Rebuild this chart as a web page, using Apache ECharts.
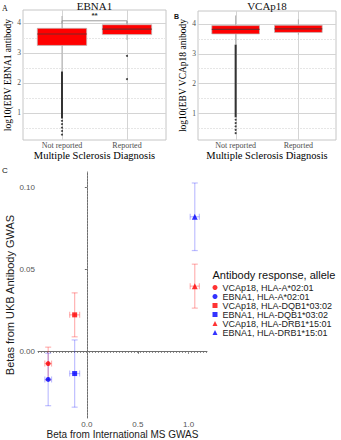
<!DOCTYPE html>
<html>
<head>
<meta charset="utf-8">
<script src="https://cdn.jsdelivr.net/npm/echarts@6/dist/echarts.min.js"></script>
<style>html,body{margin:0;padding:0;background:#fff}#c{width:341px;height:440px}</style>
</head>
<body>
<div id="c"></div>
<script>
// ---------- DATA ----------
const boxCategories = ['Not reported', 'Reported'];
// [lowerWhisker, Q1, median, Q3, upperWhisker]
const ebna1Box = [[2.38, 3.25, 3.63, 3.82, 4.23], [3.43, 3.61, 3.79, 3.94, 4.06]];
const vcaBox = [[3.30, 3.66, 3.81, 3.94, 4.28], [3.63, 3.71, 3.83, 3.95, 4.15]];
// dense outlier runs: [categoryIndex, low, high]
const ebna1DenseOutliers = [[0, 0.82, 2.38]];
const vcaDenseOutliers = [[0, 0.86, 3.30]];
// single outliers: [categoryIndex, value]
const ebna1Outliers = [[0, 0.74], [0, 0.63], [0, 0.51], [0, 0.40], [0, 0.28], [1, 2.90], [1, 2.13]];
const vcaOutliers = [[0, 0.78], [0, 0.67], [0, 0.56], [0, 0.44], [0, 0.33]];
const abYTicks = [1, 2, 3, 4];
const abYMinor = [0.5, 1.5, 2.5, 3.5];
const abXTicks = [0, 1];
const ebna1Signif = [[0, 1, 4.07, '**']];

const gwasNames = ['VCAp18, HLA-A*02:01', 'EBNA1, HLA-A*02:01', 'VCAp18, HLA-DQB1*03:02',
                   'EBNA1, HLA-DQB1*03:02', 'VCAp18, HLA-DRB1*15:01', 'EBNA1, HLA-DRB1*15:01'];
const msBeta = [-0.38, -0.38, -0.12, -0.12, 1.06, 1.06];
const msErr = [0.033, 0.033, 0.049, 0.049, 0.045, 0.045];
const ukbBeta = [-0.0072, -0.0169, 0.0225, -0.0133, 0.0400, 0.0823];
const ukbErr = [0.0100, 0.0160, 0.0134, 0.0205, 0.0134, 0.0206];
const cXTicks = [0, 0.5, 1.0];
const cYTicks = [0, 0.05, 0.10];
const cRefVertical = [0];   // x = 0 reference line
const cRefHorizontal = [0]; // y = 0 reference line

// ---------- STYLE ----------
const RED = '#ff0000', BLUE = '#0000ff';
const gwasColors = [RED, BLUE, RED, BLUE, RED, BLUE];
const gwasBarColors = ['rgba(255,0,0,0.3)', 'rgba(0,0,255,0.25)', 'rgba(255,0,0,0.3)', 'rgba(0,0,255,0.25)', 'rgba(255,0,0,0.3)', 'rgba(0,0,255,0.25)'];
const gwasSymbols = ['circle', 'circle', 'rect', 'rect', 'triangle', 'triangle'];
const gwasSizes = [5, 5, 5, 5, 6, 6];
const SERIF = '"Liberation Serif", "DejaVu Serif", serif';
const SANS = '"Liberation Sans", Arial, sans-serif';
const BOX_W = 0.76;

const chart = echarts.init(document.getElementById('c'), null, {renderer: 'svg'});

// line items: [direction(0=horizontal,1=vertical), value, kind(1 major, 0 minor, 2 reference)]
function gridItems() {
  return abYTicks.map(v => [0, v, 1]).concat(abYMinor.map(v => [0, v, 0])).concat(abXTicks.map(v => [1, v, 1]));
}
function refItems() {
  return cRefVertical.map(v => [1, v, 2]).concat(cRefHorizontal.map(v => [0, v, 2]));
}
function lineRender(params, api) {
  const cs = params.coordSys;
  const dir = api.value(0), v = api.value(1), kind = api.value(2);
  const st = kind === 1 ? {stroke: '#d4d4d4', lineWidth: 1}
           : kind === 0 ? {stroke: '#e6e6e6', lineWidth: 1, lineDash: [2, 1]}
           : {stroke: '#8f8f8f', lineWidth: 1, lineDash: [1, 2]};
  if (dir === 0) {
    const p = api.coord([0, v]);
    const y = Math.round(p[1]) + 0.5;
    return {type: 'line', shape: {x1: cs.x, y1: y, x2: cs.x + cs.width, y2: y}, style: st};
  }
  const p = api.coord([v, 0]);
  const x = Math.round(p[0]) + 0.5;
  return {type: 'line', shape: {x1: x, y1: cs.y, x2: x, y2: cs.y + cs.height}, style: st};
}
function boxRender(params, api) {
  const x = api.value(0);
  const lo = api.coord([x, api.value(1)]);
  const q1 = api.coord([x, api.value(2)]);
  const md = api.coord([x, api.value(3)]);
  const q3 = api.coord([x, api.value(4)]);
  const hi = api.coord([x, api.value(5)]);
  const hw = api.size([BOX_W, 0])[0] / 2;
  const wStyle = {stroke: '#b0b0b0', lineWidth: 1};
  return {type: 'group', children: [
    {type: 'line', shape: {x1: lo[0], y1: lo[1], x2: q1[0], y2: q1[1]}, style: wStyle},
    {type: 'line', shape: {x1: q3[0], y1: q3[1], x2: hi[0], y2: hi[1]}, style: wStyle},
    {type: 'rect', shape: {x: q1[0] - hw, y: q3[1], width: 2 * hw, height: q1[1] - q3[1]},
     style: {fill: RED, stroke: '#bdbdbd', lineWidth: 0.7}},
    {type: 'line', shape: {x1: md[0] - hw, y1: md[1], x2: md[0] + hw, y2: md[1]},
     style: {stroke: '#7d2626', lineWidth: 1.2}}
  ]};
}
function denseRender(params, api) {
  const x = api.value(0);
  const a = api.coord([x, api.value(1)]);
  const b = api.coord([x, api.value(2)]);
  return {type: 'line', shape: {x1: a[0], y1: a[1], x2: b[0], y2: b[1]},
          style: {stroke: '#333', lineWidth: 2}};
}
function signifRender(params, api) {
  const y = api.value(2);
  const a = api.coord([api.value(0), y]);
  const b = api.coord([api.value(1), y]);
  const drop = api.size([0, 0.1])[1];
  const st = {stroke: '#9a9a9a', lineWidth: 1, fill: 'none'};
  return {type: 'group', children: [
    {type: 'polyline', shape: {points: [[a[0], a[1] + drop], [a[0], a[1]], [b[0], b[1]], [b[0], b[1] + drop]]}, style: st},
    {type: 'text', x: (a[0] + b[0]) / 2, y: a[1] - 5,
     style: {text: api.value(3), fill: '#333', font: 'bold 8px ' + SANS, align: 'center', verticalAlign: 'middle'}}
  ]};
}
function errRender(params, api) {
  const i = params.dataIndex;
  const x = api.value(0), y = api.value(1), xe = api.value(2), ye = api.value(3);
  const top = api.coord([x, y + ye]), bot = api.coord([x, y - ye]);
  const lft = api.coord([x - xe, y]), rgt = api.coord([x + xe, y]);
  const cap = 3;
  const st = {stroke: gwasBarColors[i], lineWidth: 1.2};
  return {type: 'group', children: [
    {type: 'line', shape: {x1: top[0], y1: top[1], x2: bot[0], y2: bot[1]}, style: st},
    {type: 'line', shape: {x1: top[0] - cap, y1: top[1], x2: top[0] + cap, y2: top[1]}, style: st},
    {type: 'line', shape: {x1: bot[0] - cap, y1: bot[1], x2: bot[0] + cap, y2: bot[1]}, style: st},
    {type: 'line', shape: {x1: lft[0], y1: lft[1], x2: rgt[0], y2: rgt[1]}, style: st},
    {type: 'line', shape: {x1: lft[0], y1: lft[1] - cap, x2: lft[0], y2: lft[1] + cap}, style: st},
    {type: 'line', shape: {x1: rgt[0], y1: rgt[1] - cap, x2: rgt[0], y2: rgt[1] + cap}, style: st}
  ]};
}

function boxXAxis(gridIndex) {
  return {
    type: 'value', gridIndex, min: -0.6, max: 1.6,
    axisLine: {show: false},
    axisTick: {show: false, customValues: abXTicks},
    axisLabel: {customValues: abXTicks, formatter: v => boxCategories[Math.round(v)],
                color: '#4d4d4d', fontFamily: SERIF, fontSize: 8, margin: 1},
    splitLine: {show: false},
    name: 'Multiple Sclerosis Diagnosis', nameLocation: 'middle', nameGap: 8,
    nameTextStyle: {color: '#000', fontFamily: SERIF, fontSize: 10.5}
  };
}
function boxYAxis(gridIndex, name) {
  return {
    type: 'value', gridIndex, min: 0.1, max: 4.43,
    axisLine: {show: false},
    axisTick: {show: false, customValues: abYTicks},
    axisLabel: {customValues: abYTicks, color: '#4d4d4d', fontFamily: SERIF, fontSize: 7.5, margin: 2},
    splitLine: {show: false},
    name, nameLocation: 'middle', nameGap: 6,
    nameTextStyle: {color: '#000', fontFamily: SERIF, fontSize: 9.5}
  };
}
function toBoxData(stats) { return stats.map((s, i) => [i].concat(s)); }

const series = [];
[[ebna1Box, ebna1DenseOutliers, ebna1Outliers, 0], [vcaBox, vcaDenseOutliers, vcaOutliers, 1]].forEach(function (p) {
  series.push({type: 'custom', xAxisIndex: p[3], yAxisIndex: p[3], renderItem: lineRender,
               encode: {x: 1, y: 1}, data: gridItems(), silent: true, z: 1, clip: false});
  series.push({type: 'custom', xAxisIndex: p[3], yAxisIndex: p[3], renderItem: boxRender,
               encode: {x: 0, y: [1, 2, 3, 4, 5]}, data: toBoxData(p[0]), silent: true, z: 2});
  series.push({type: 'custom', xAxisIndex: p[3], yAxisIndex: p[3], renderItem: denseRender,
               encode: {x: 0, y: [1, 2]}, data: p[1], silent: true, z: 3});
  series.push({type: 'scatter', xAxisIndex: p[3], yAxisIndex: p[3], data: p[2], symbolSize: 2,
               itemStyle: {color: '#111'}, silent: true, z: 3});
});
series.push({type: 'custom', xAxisIndex: 0, yAxisIndex: 0, renderItem: signifRender,
             encode: {x: [0, 1], y: 2}, data: ebna1Signif, silent: true, z: 4});

// Panel C
series.push({type: 'custom', xAxisIndex: 2, yAxisIndex: 2, renderItem: lineRender,
             encode: {x: 1, y: 1}, data: refItems(), silent: true, z: 1, clip: false});
series.push({type: 'custom', xAxisIndex: 2, yAxisIndex: 2, renderItem: errRender, silent: true, z: 2,
             encode: {x: 0, y: 1},
             data: msBeta.map((x, i) => [x, ukbBeta[i], msErr[i], ukbErr[i]])});
gwasNames.forEach(function (n, i) {
  series.push({type: 'scatter', name: n, xAxisIndex: 2, yAxisIndex: 2, z: 3,
               symbol: gwasSymbols[i], symbolSize: gwasSizes[i],
               itemStyle: {color: gwasColors[i]}, data: [[msBeta[i], ukbBeta[i]]]});
});

const option = {
  animation: false,
  backgroundColor: '#fff',
  grid: [
    {left: 23, top: 10, width: 143, height: 130, show: true, borderColor: '#c6c6c6', borderWidth: 1, backgroundColor: 'transparent', outerBoundsMode: 'none'},
    {left: 198, top: 11, width: 138, height: 129, show: true, borderColor: '#c6c6c6', borderWidth: 1, backgroundColor: 'transparent', outerBoundsMode: 'none'},
    {left: 38, top: 172, width: 169, height: 246, outerBoundsMode: 'none'}
  ],
  xAxis: [
    boxXAxis(0), boxXAxis(1),
    {type: 'value', gridIndex: 2, min: -0.48, max: 1.18,
     axisLine: {show: true, lineStyle: {color: '#6e6e6e', width: 1}},
     axisTick: {show: true, length: 2, customValues: cXTicks, lineStyle: {color: '#6e6e6e'}},
     axisLabel: {customValues: cXTicks, formatter: v => v.toFixed(1), color: '#555', fontFamily: SANS, fontSize: 8, margin: 2, lineHeight: 8},
     splitLine: {show: false},
     name: 'Beta from International MS GWAS', nameLocation: 'middle', nameGap: 11, nameMoveOverlap: false,
     nameTextStyle: {color: '#1a1a1a', fontFamily: SANS, fontSize: 10, lineHeight: 10}}
  ],
  yAxis: [
    boxYAxis(0, 'log10(EBV EBNA1 antibody'),
    boxYAxis(1, 'log10(EBV VCAp18 anibody'),
    {type: 'value', gridIndex: 2, min: -0.0404, max: 0.1096,
     axisLine: {show: true, lineStyle: {color: '#6e6e6e', width: 1}},
     axisTick: {show: true, length: 2, customValues: cYTicks, lineStyle: {color: '#6e6e6e'}},
     axisLabel: {customValues: cYTicks, formatter: v => v.toFixed(2), color: '#555', fontFamily: SANS, fontSize: 8, margin: 3},
     splitLine: {show: false},
     name: 'Betas from UKB Antibody GWAS', nameLocation: 'middle', nameGap: 20,
     nameTextStyle: {color: '#1a1a1a', fontFamily: SANS, fontSize: 11}}
  ],
  legend: {
    data: gwasNames, orient: 'vertical', left: 212.5, top: 283,
    itemWidth: 5, itemHeight: 5, itemGap: 0, padding: 0,
    textStyle: {fontFamily: SANS, fontSize: 9, color: '#222', lineHeight: 7},
    selectedMode: false
  },
  graphic: [
    {type: 'text', x: 94.5, y: 5.5, style: {text: 'EBNA1', font: '11px ' + SERIF, fill: '#111', align: 'center', verticalAlign: 'middle'}},
    {type: 'text', x: 267, y: 5.5, style: {text: 'VCAp18', font: '11px ' + SERIF, fill: '#111', align: 'center', verticalAlign: 'middle'}},
    {type: 'text', x: 2, y: 8, style: {text: 'A', font: '8px ' + SERIF, fill: '#111', align: 'left', verticalAlign: 'middle'}},
    {type: 'text', x: 174, y: 16, style: {text: 'B', font: 'bold 7px ' + SANS, fill: '#111', align: 'left', verticalAlign: 'middle'}},
    {type: 'text', x: 2, y: 170, style: {text: 'C', font: '8px ' + SANS, fill: '#111', align: 'left', verticalAlign: 'middle'}},
    {type: 'text', x: 212.5, y: 275, style: {text: 'Antibody response, allele', font: '11px ' + SANS, fill: '#111', align: 'left', verticalAlign: 'middle'}}
  ],
  series
};
chart.setOption(option);
</script>
</body>
</html>
